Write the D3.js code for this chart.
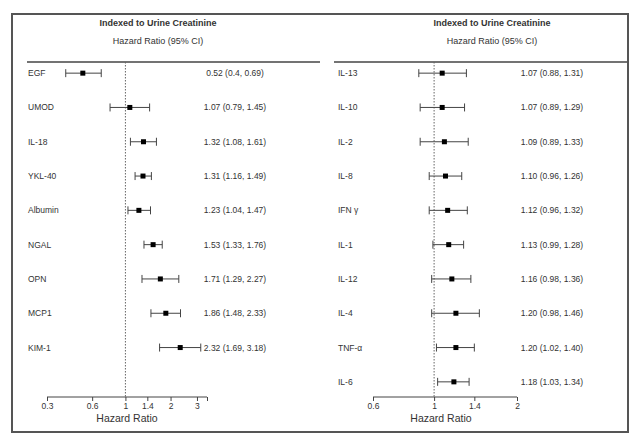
<!DOCTYPE html>
<html><head><meta charset="utf-8">
<script src="https://cdn.jsdelivr.net/npm/d3@7"></script>
<style>body{margin:0;background:#fff}svg text{font-family:"Liberation Sans",Arial,sans-serif;fill:#333}</style>
</head><body>
<svg id="c" width="632" height="434"></svg>
<script>
const leftLabels = ["EGF","UMOD","IL-18","YKL-40","Albumin","NGAL","OPN","MCP1","KIM-1"];
const leftHR = [0.52,1.07,1.32,1.31,1.23,1.53,1.71,1.86,2.32];
const leftLo = [0.4,0.79,1.08,1.16,1.04,1.33,1.29,1.48,1.69];
const leftHi = [0.69,1.45,1.61,1.49,1.47,1.76,2.27,2.33,3.18];
const leftText = ["0.52 (0.4, 0.69)","1.07 (0.79, 1.45)","1.32 (1.08, 1.61)","1.31 (1.16, 1.49)","1.23 (1.04, 1.47)","1.53 (1.33, 1.76)","1.71 (1.29, 2.27)","1.86 (1.48, 2.33)","2.32 (1.69, 3.18)"];
const leftTicks = [0.3,0.6,1,1.4,2,3,3.5];
const leftTickLabels = ["0.3","0.6","1","1.4","2","3",""];

const rightLabels = ["IL-13","IL-10","IL-2","IL-8","IFN γ","IL-1","IL-12","IL-4","TNF-α","IL-6"];
const rightHR = [1.07,1.07,1.09,1.10,1.12,1.13,1.16,1.20,1.20,1.18];
const rightLo = [0.88,0.89,0.89,0.96,0.96,0.99,0.98,0.98,1.02,1.03];
const rightHi = [1.31,1.29,1.33,1.26,1.32,1.28,1.36,1.46,1.40,1.34];
const rightText = ["1.07 (0.88, 1.31)","1.07 (0.89, 1.29)","1.09 (0.89, 1.33)","1.10 (0.96, 1.26)","1.12 (0.96, 1.32)","1.13 (0.99, 1.28)","1.16 (0.98, 1.36)","1.20 (0.98, 1.46)","1.20 (1.02, 1.40)","1.18 (1.03, 1.34)"];
const rightTicks = [0.6,1,1.4,2];
const rightTickLabels = ["0.6","1","1.4","2"];

const title = "Indexed to Urine Creatinine";
const subtitle = "Hazard Ratio (95% CI)";
const axisTitle = "Hazard Ratio";

const svg = d3.select("#c");
svg.append("rect").attr("x",12).attr("y",14).attr("width",616).attr("height",418)
  .attr("fill","#fff").attr("stroke","#555").attr("stroke-width",2);

function panel(cfg){
  const g = svg.append("g");
  const x = d3.scaleLog().domain(cfg.domain).range(cfg.range);
  const y = d3.scaleBand().domain(d3.range(cfg.labels.length)).range([cfg.y0, cfg.y0 + cfg.step*cfg.labels.length]).paddingInner(0).align(0);
  const cy = i => y(i) + cfg.step/2;
  g.append("text").attr("x",cfg.titleX).attr("y",26).attr("text-anchor","middle")
    .attr("font-size",9).attr("font-weight","bold").text(title);
  g.append("text").attr("x",cfg.titleX).attr("y",44).attr("text-anchor","middle")
    .attr("font-size",9).text(subtitle);
  g.append("line").attr("x1",cfg.hline[0]).attr("x2",cfg.hline[1]).attr("y1",62).attr("y2",62)
    .attr("stroke","#444").attr("stroke-width",1.3);
  g.append("line").attr("x1",x(1)).attr("x2",x(1)).attr("y1",62).attr("y2",cfg.axisY)
    .attr("stroke","#666").attr("stroke-width",1).attr("stroke-dasharray","1.5,1.5");
  const rows = g.selectAll("g.row").data(cfg.labels.map((l,i)=>i)).join("g").attr("class","row");
  rows.append("text").attr("x",cfg.labelX).attr("y",i=>cy(i)+3).attr("font-size",8.5).text(i=>cfg.labels[i]);
  rows.append("line").attr("x1",i=>x(cfg.lo[i])).attr("x2",i=>x(cfg.hi[i])).attr("y1",cy).attr("y2",cy)
    .attr("stroke","#444").attr("stroke-width",1);
  rows.append("line").attr("x1",i=>x(cfg.lo[i])).attr("x2",i=>x(cfg.lo[i])).attr("y1",i=>cy(i)-4).attr("y2",i=>cy(i)+4)
    .attr("stroke","#444").attr("stroke-width",1);
  rows.append("line").attr("x1",i=>x(cfg.hi[i])).attr("x2",i=>x(cfg.hi[i])).attr("y1",i=>cy(i)-4).attr("y2",i=>cy(i)+4)
    .attr("stroke","#444").attr("stroke-width",1);
  rows.append("rect").attr("x",i=>x(cfg.hr[i])-2.5).attr("y",i=>cy(i)-2.5).attr("width",5).attr("height",5)
    .attr("fill","#000");
  rows.append("text").attr("x",cfg.textX).attr("y",i=>cy(i)+3).attr("text-anchor","middle")
    .attr("font-size",8.5).text(i=>cfg.text[i]);
  const ax = d3.axisBottom(x).tickValues(cfg.ticks).tickSize(4).tickSizeOuter(0).tickPadding(2)
    .tickFormat((d,i)=>cfg.tickLabels[i]);
  const ag = g.append("g").attr("transform",`translate(0,${cfg.axisY})`).call(ax);
  ag.select(".domain").attr("stroke","#444").attr("d",`M${cfg.range[0]},0H${cfg.range[1]}`);
  ag.selectAll(".tick line").attr("stroke","#444");
  ag.selectAll(".tick text").attr("font-size",8.5).attr("fill","#333")
    .style("font-family","Liberation Sans, Arial, sans-serif");
  g.append("text").attr("x",cfg.axTitleX).attr("y",cfg.axisY+25).attr("text-anchor","middle")
    .attr("font-size",10.5).text(axisTitle);
}

panel({labels:leftLabels,hr:leftHR,lo:leftLo,hi:leftHi,text:leftText,ticks:leftTicks,tickLabels:leftTickLabels,
  domain:[0.3,3.5],range:[47,207],y0:56,step:34.3,titleX:158,hline:[27,320],labelX:28,textX:235,axisY:397,axTitleX:127});
panel({labels:rightLabels,hr:rightHR,lo:rightLo,hi:rightHi,text:rightText,ticks:rightTicks,tickLabels:rightTickLabels,
  domain:[0.6,2],range:[373,517],y0:56,step:34.3,titleX:492,hline:[334,627],labelX:338,textX:552,axisY:397,axTitleX:441});
</script>
</body></html>
